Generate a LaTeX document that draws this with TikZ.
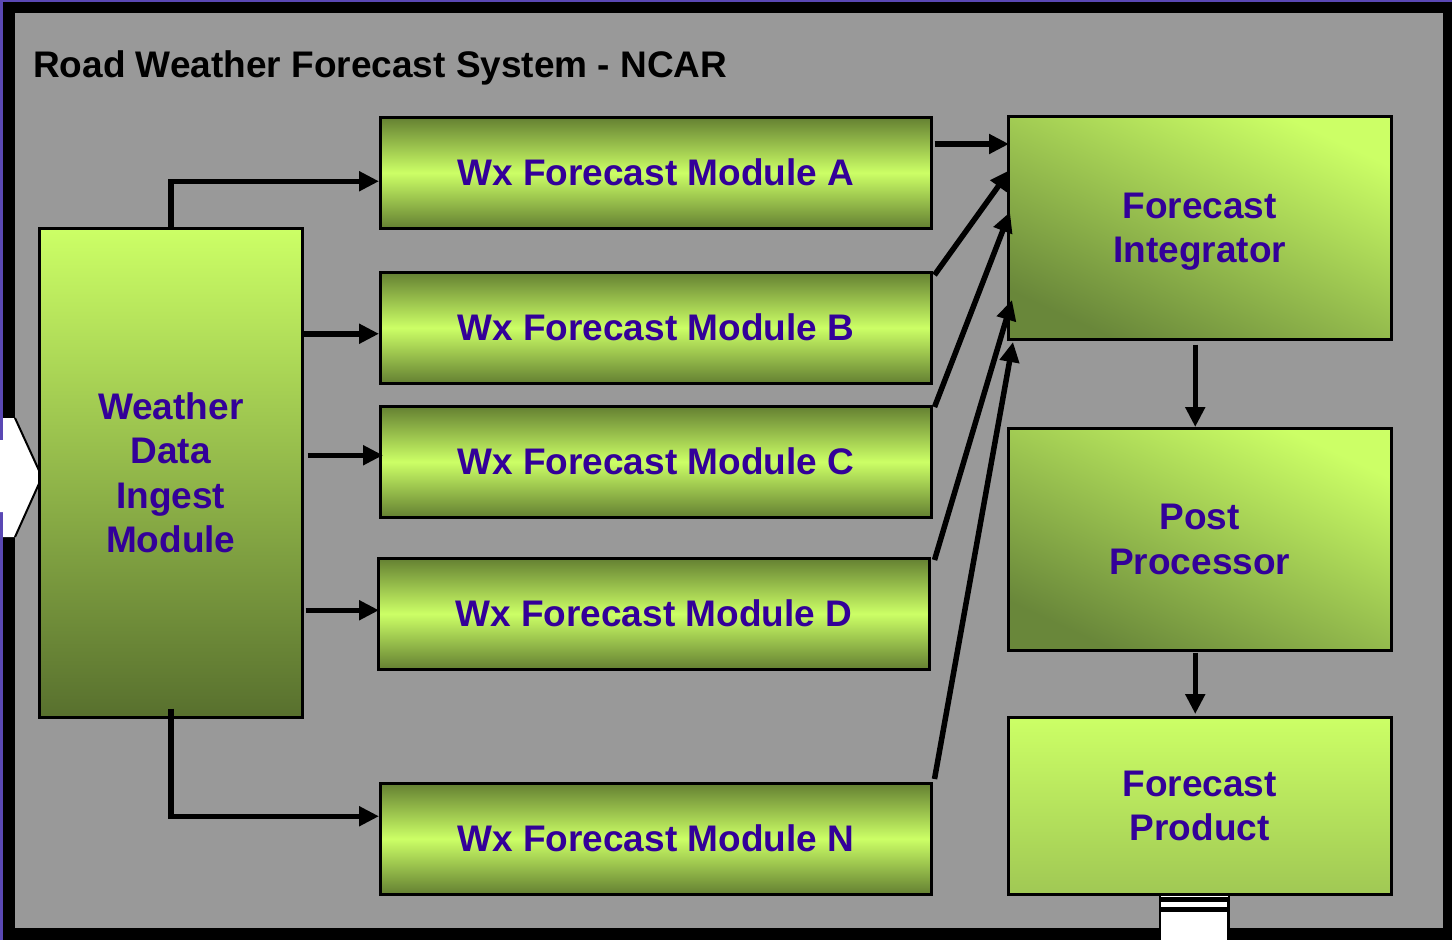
\documentclass[tikz,border=0pt]{standalone}
\usepackage{fontspec}
\setmainfont{Liberation Sans}
\usetikzlibrary{arrows.meta,calc}
\definecolor{bgpurple}{RGB}{90,72,180}
\definecolor{panel}{RGB}{153,153,153}
\definecolor{lt}{RGB}{204,255,102}
\definecolor{dk}{RGB}{88,112,46}
\definecolor{dkmod}{RGB}{100,128,50}
\definecolor{dkright}{RGB}{105,135,58}
\definecolor{txt}{RGB}{51,0,153}
\tikzset{
  boxtxt/.style={font=\bfseries\fontsize{37}{44.4}\selectfont, text=txt, align=center, inner sep=0pt},
  box/.style={boxtxt, draw=black, line width=2.5pt, anchor=north west},
  modbox/.style={box, minimum width=551pt, minimum height=111pt,
    top color=dkmod, bottom color=dkmod, middle color=lt},
  rightbox/.style={box, minimum width=383pt, bottom color=dkright, top color=lt, shading angle=-25},
  arr/.style={line width=5.5pt, -{Triangle[length=20pt,width=19pt]}},
}
\begin{document}
\begin{tikzpicture}[x=1pt,y=-1pt]
\useasboundingbox (0,0) rectangle (1452,940);
% background and frame
\fill[bgpurple] (0,0) rectangle (1452,940);
\fill[black] (3,2) rectangle (1452,940);
\fill[panel] (15,13) rectangle (1443,928);
% incoming white arrow at left
\fill[white] (0,440) -- (3,440) -- (3,418) -- (15,418) -- (42,477) -- (15,537) -- (3,537) -- (3,512) -- (0,512) -- cycle;
\draw[black, line width=2pt] (15,418) -- (42,477) -- (15,537);
% outgoing white arrow at bottom
\fill[black] (1158.5,893) rectangle (1229.5,940);
\fill[white] (1160.5,894.5) rectangle (1227.5,897);
\fill[white] (1161,901.5) rectangle (1227,907);
\fill[white] (1161,911.5) rectangle (1227,940);
% title
\node[anchor=base west, inner sep=0pt, font=\bfseries\fontsize{37}{44.4}\selectfont] (title) at (33,77) {Road Weather Forecast System - NCAR};
% ingest module
\node[box, minimum width=263pt, minimum height=489pt, top color=lt, middle color={rgb,255:red,168;green,212;blue,88}, bottom color=dk] (ing) at (38,227) {Weather\\Data\\Ingest\\Module};
% forecast modules
\node[modbox] (A) at (379,116) {Wx Forecast Module A};
\node[modbox] (B) at (379,271) {Wx Forecast Module B};
\node[modbox] (C) at (379,405) {Wx Forecast Module C};
\node[modbox] (D) at (377,557) {Wx Forecast Module D};
\node[modbox] (N) at (379,782) {Wx Forecast Module N};
% right column
\node[rightbox, minimum height=223pt, text depth=-8pt] (Int) at (1007,115) {Forecast\\Integrator};
\node[rightbox, minimum height=222pt] (Post) at (1007,427) {Post\\Processor};
\node[rightbox, minimum height=177pt, bottom color={rgb,255:red,160;green,200;blue,84}] (Prod) at (1007,716) {Forecast\\Product};
% connector coordinates
\coordinate (Ain) at ([yshift=-8.5pt]A.west);
\coordinate (Bin) at ([yshift=-6pt]B.west);
\coordinate (Cin) at ([yshift=6.5pt]C.west);
\coordinate (Din) at ([yshift=3.5pt]D.west);
\coordinate (Nin) at ([yshift=22.5pt]N.west);
% ingest to modules
\draw[arr] (ing.north) |- (Ain);
\draw[arr] (ing.east |- Bin) -- (Bin);
\draw[arr] ([xshift=4pt]ing.east |- Cin) -- ([xshift=4pt]Cin);
\draw[arr] ([xshift=2pt]ing.east |- Din) -- ([xshift=2pt]Din);
\draw[arr] ([yshift=10pt]ing.south) |- (Nin);
% modules to integrator
\draw[arr] ([xshift=2pt,yshift=-28pt]A.north east) -- ([xshift=2pt,yshift=-29pt]Int.north west);
\draw[arr] ([xshift=2pt,yshift=-4pt]B.north east) -- ([xshift=3pt,yshift=-55pt]Int.north west);
\draw[arr] ([xshift=2pt,yshift=-2pt]C.north east) -- ([xshift=3pt,yshift=-97pt]Int.north west);
\draw[arr] ([xshift=4pt,yshift=-3pt]D.north east) -- ([xshift=5pt,yshift=-185pt]Int.north west);
\draw[arr] ([xshift=2pt,yshift=3pt]N.north east) -- ([xshift=6pt,yshift=-227pt]Int.north west);
% right column chain
\draw[arr] ([xshift=-4.5pt,yshift=-4pt]Int.south) -- ([xshift=-4.5pt]Post.north);
\draw[arr] ([xshift=-4.5pt,yshift=-1pt]Post.south) -- ([xshift=-4.5pt,yshift=2pt]Prod.north);
\end{tikzpicture}
\end{document}
